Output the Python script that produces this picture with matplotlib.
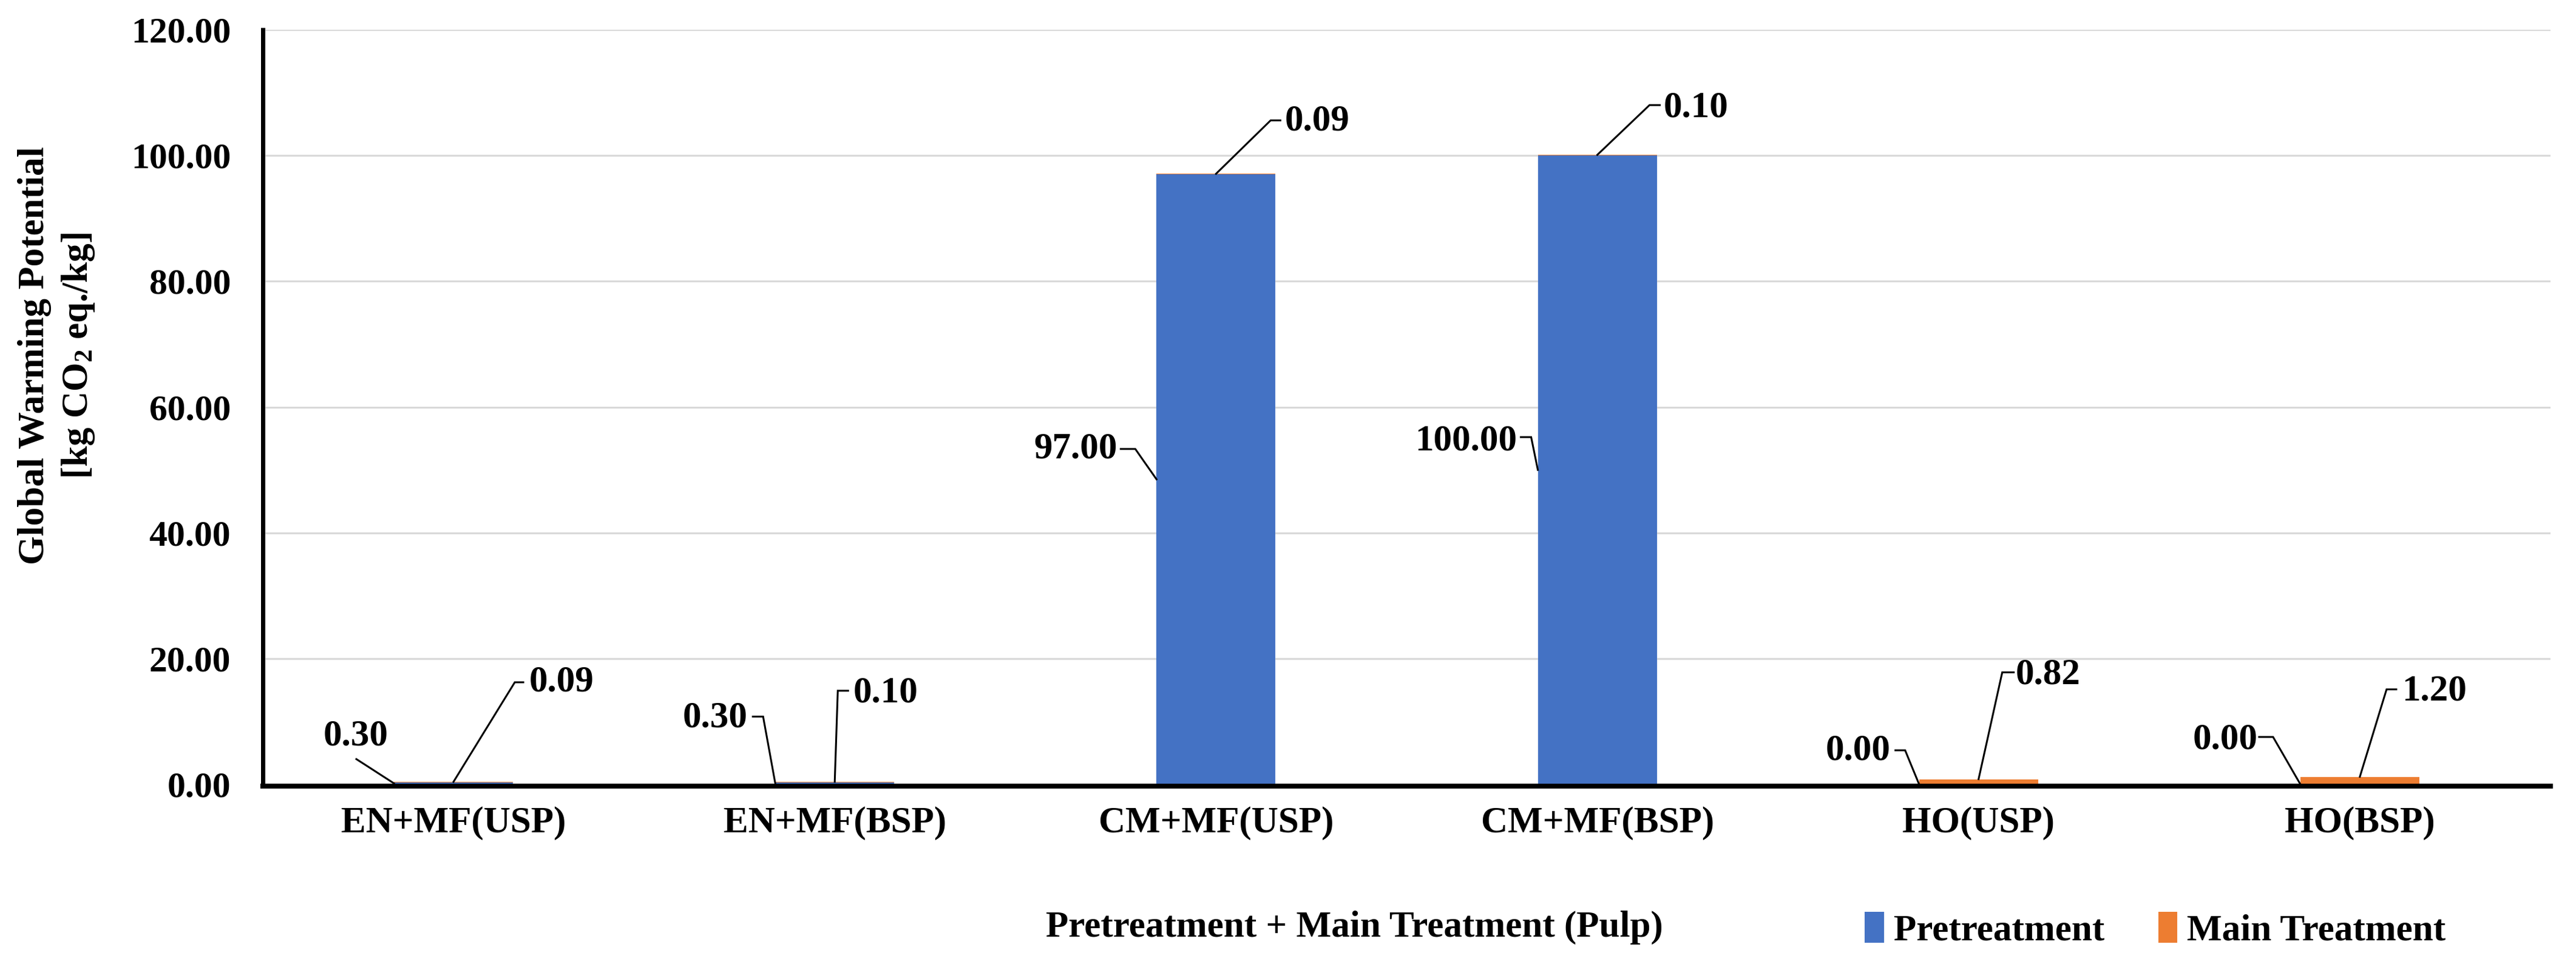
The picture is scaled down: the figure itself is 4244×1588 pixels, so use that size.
import matplotlib
matplotlib.use("Agg")
import matplotlib.pyplot as plt
from matplotlib.patches import Patch
from matplotlib.ticker import FormatStrFormatter
import numpy as np

# datos
categorias = ["EN+MF(USP)", "EN+MF(BSP)", "CM+MF(USP)", "CM+MF(BSP)", "HO(USP)", "HO(BSP)"]
pretratamiento = [0.30, 0.30, 97.00, 100.00, 0.00, 0.00]
tratamiento_principal = [0.09, 0.10, 0.09, 0.10, 0.82, 1.20]

# desplazamientos de las etiquetas (pixeles): centro del texto, codo de la linea guia, fin del tramo horizontal
etq_pre = [((-63, 78), (-62, 40), (-62, 40)),
           ((-99, 108), (-20, 110), (-37, 110)),
           ((-133, 50), (-35, 50), (-59, 50)),
           ((-118, 48), (-11, 54), (-28, 54)),
           ((-101, 55), (-23, 56), (-39, 56)),
           ((-124, 73), (-45, 78), (-68, 78))]
etq_main = [((178, 164), (101, 164), (115, 164)),
            ((84, 146), (5, 150), (22, 150)),
            ((167, 87), (90, 88), (106, 88)),
            ((162, 78), (86, 82), (103, 82)),
            ((114, 172), (39, 176), (58, 176)),
            ((123, 141), (44, 144), (60, 144))]

azul = "#4472C4"
naranja = "#ED7D31"
fuente = "Liberation Serif"

plt.rcParams["font.family"] = fuente
plt.rcParams["font.weight"] = "bold"
plt.rcParams["mathtext.fontset"] = "custom"
plt.rcParams["mathtext.rm"] = "Liberation Serif:bold"
plt.rcParams["mathtext.it"] = "Liberation Serif:bold"
plt.rcParams["mathtext.bf"] = "Liberation Serif:bold"

fig = plt.figure(figsize=(42.44, 15.88), dpi=100)
ax = fig.add_axes([433 / 4244, 1 - 1292 / 1588, (4202 - 433) / 4244, (1292 - 49) / 1588])

x = np.arange(len(categorias))
ancho = 0.312
ax.bar(x, pretratamiento, ancho, color=azul, zorder=2)
ax.bar(x, tratamiento_principal, ancho, bottom=pretratamiento, color=naranja, zorder=2)

ax.set_xlim(-0.5, len(categorias) - 0.5)
ax.set_ylim(0, 120)
ax.set_yticks(np.arange(0, 121, 20))
ax.yaxis.set_major_formatter(FormatStrFormatter("%.2f"))
ax.set_xticks(x)
ax.set_xticklabels(categorias)
ax.tick_params(axis="y", length=0, pad=38, labelsize=43)
ax.tick_params(axis="x", length=0, pad=24, labelsize=44)
ax.grid(axis="y", color="#d9d9d9", linewidth=2.2, zorder=0)
ax.set_axisbelow(True)
for s in ["top", "right"]:
    ax.spines[s].set_visible(False)
ax.spines["left"].set_linewidth(5)
ax.spines["bottom"].set_linewidth(5.8)
# el eje x queda justo debajo del cero, como en Excel
ax.spines["bottom"].set_position(("outward", 2))
ax.spines["left"].set_zorder(3)
ax.spines["bottom"].set_zorder(3)

inv = fig.transFigure.inverted()


def etiqueta(xa, ya, valor, conf):
    (tx, ty), (cx, cy), (hx, hy) = conf
    ax.annotate(f"{valor:.2f}", xy=(xa, ya), xytext=(tx, ty), textcoords="offset pixels",
                ha="center", va="center", fontsize=44, fontweight="bold", zorder=5)
    # linea guia: anclaje -> codo -> tramo horizontal hasta el texto
    px, py = ax.transData.transform((xa, ya))
    puntos = [(px, py), (px + cx, py + cy), (px + hx, py + hy)]
    q = inv.transform(puntos)
    fig.add_artist(plt.Line2D(q[:, 0], q[:, 1], color="black", lw=2.2,
                              transform=fig.transFigure, solid_joinstyle="miter"))


for i in range(len(categorias)):
    izq = x[i] - ancho / 2
    etiqueta(izq, pretratamiento[i] / 2, pretratamiento[i], etq_pre[i])
    etiqueta(x[i], pretratamiento[i] + tratamiento_principal[i], tratamiento_principal[i], etq_main[i])

fig.text(94 / 4244, 1 - 586 / 1588, "Global Warming Potential\n[kg CO$_{2}$ eq./kg]",
         rotation=90, ha="center", va="center", multialignment="center",
         fontsize=44, fontweight="bold", linespacing=1.3)
fig.text(2231 / 4244, 1 - 1528 / 1588, "Pretreatment + Main Treatment (Pulp)",
         ha="center", va="center", fontsize=44, fontweight="bold")

handles = [Patch(facecolor=azul, label="Pretreatment"), Patch(facecolor=naranja, label="Main Treatment")]
fig.legend(handles=handles, loc="center left", bbox_to_anchor=(3072 / 4244, 1 - 1532 / 1588),
           ncol=2, frameon=False, borderpad=0, borderaxespad=0, handlelength=0.52, handleheight=0.9,
           handletextpad=0.26, columnspacing=1.45, prop=dict(family=fuente, weight="bold", size=44))

fig.savefig("out.png", dpi=100)
